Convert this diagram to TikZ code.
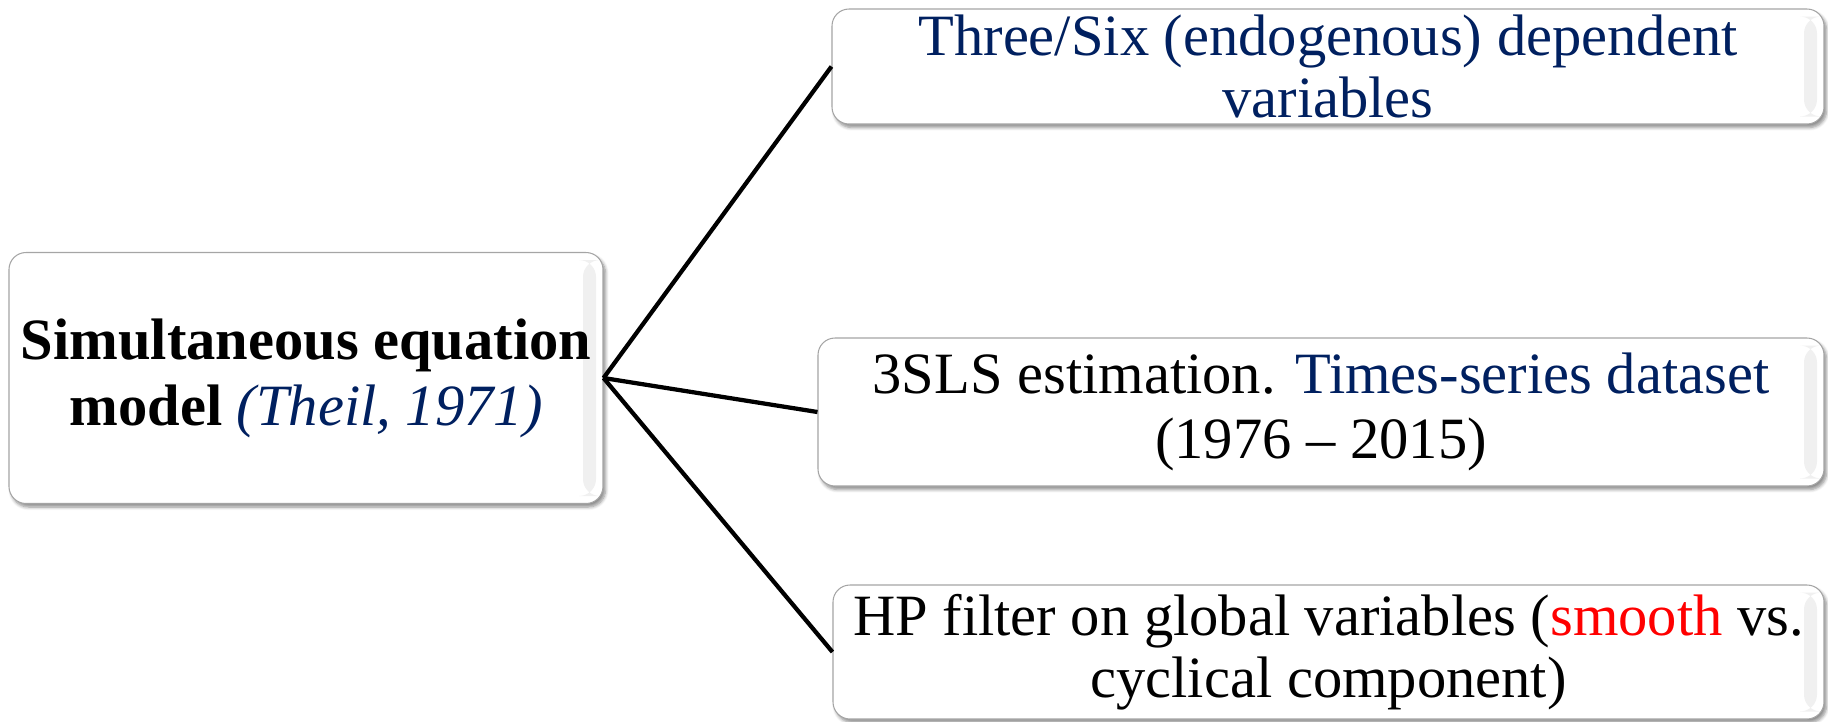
\documentclass[tikz,border=0pt]{standalone}
\usepackage{fontspec}
\setmainfont{Liberation Serif}
\usetikzlibrary{shadows.blur}

\definecolor{navy}{RGB}{0,32,96}
\definecolor{frame}{RGB}{165,165,165}

\begin{document}
\begin{tikzpicture}[
    box/.style={draw=frame, line width=0.6pt, fill=white, rounded corners=0.34cm,
      align=center, inner sep=0pt, font=\fontsize{33.3}{35.5}\selectfont,
      blur shadow={shadow xshift=0.05cm, shadow yshift=-0.07cm, shadow blur steps=6, shadow opacity=45},
      path picture={\shade[left color=white, right color=black!6]
        ([xshift=-0.4cm, yshift=-0.15cm]path picture bounding box.north east) rectangle
        ([xshift=-0.14cm, yshift=0.15cm]path picture bounding box.south east);}},
    link/.style={line width=0.085cm}]
\useasboundingbox (0,0) rectangle (36.56,-14.42);
\node (model)  [box, minimum width=11.88cm, minimum height=5.02cm, font=\fontsize{33.3}{37.5}\selectfont] at (6.12,-7.56)
  {\bfseries Simultaneous equation\\ \bfseries model \textcolor{navy}{\mdseries\itshape (Theil, 1971)}};
\node (vars)   [box, minimum width=19.84cm, minimum height=2.30cm, text=navy] at (26.56,-1.33)
  {Three/Six (endogenous) dependent\\ variables};
\node (est)    [box, minimum width=20.12cm, minimum height=2.96cm, font=\fontsize{33.3}{37}\selectfont] at (26.42,-8.24)
  {3SLS estimation. \textcolor{navy}{Times-series dataset}\\ (1976 -- 2015)};
\node (filter) [box, minimum width=19.82cm, minimum height=2.68cm] at (26.57,-13.04)
  {HP filter on global variables (\textcolor{red}{smooth} vs.\\ cyclical component)};
% branches
\draw[link] (model.east) -- (vars.west);
\draw[link] (model.east) -- (est.west);
\draw[link] (model.east) -- (filter.west);
\end{tikzpicture}
\end{document}
